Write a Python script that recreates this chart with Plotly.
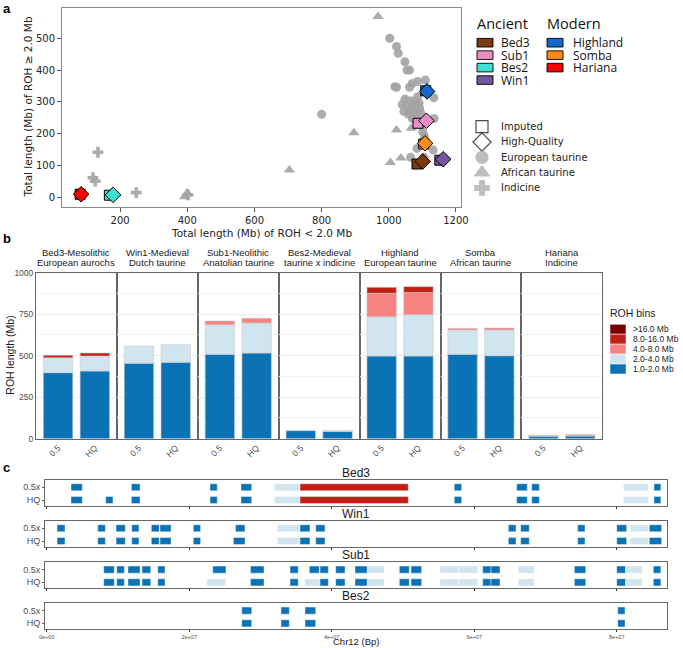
import plotly.graph_objects as go

W, H = 683, 648


def px(x):
    return x / W


def py(y):
    return 1 - y / H


# ---------------- Panel a data ----------------
euro_x = [800, 1003, 1023, 1028, 1048, 1054, 1062, 1018, 1023, 1062, 1070, 1086, 1109, 1048, 1065,
          1086, 1134, 1062, 1077, 1092, 1083, 1070, 1135, 1101, 1106, 1084, 1132, 1065, 1105, 1040,
          1055, 1072, 1095, 1100, 1045, 1078, 1058, 1090]
euro_y = [261, 500, 474, 453, 426, 400, 400, 348, 346, 346, 358, 364, 369, 309, 304,
          316, 313, 269, 275, 280, 259, 248, 248, 206, 193, 154, 149, 126, 126, 292,
          285, 290, 265, 232, 270, 300, 262, 296]
afr_x = [968, 896, 1005, 1036, 1023, 1067, 704, 400, 392]
afr_y = [568, 203, 110, 124, 212, 217, 86, 14, 2]
ind_x = [134, 119, 126, 248, 402]
ind_y = [142, 62, 51, 15, 8]

samples_a = ["Bed3", "Sub1", "Bes2", "Win1", "Highland", "Somba", "Hariana"]
sample_colors = ["#7A3A12", "#E98FC6", "#40E0D0", "#75569E", "#1767C8", "#F98A1C", "#FF0000"]
imp_x = [1084, 1087, 168, 1152, 1110, 1104, 81]
imp_y = [105, 233, 7, 117, 335, 168, 10]
hq_x = [1101, 1112, 179, 1162, 1114, 1108, 84]
hq_y = [113, 241, 8, 120, 333, 170, 10]
ancient = ["Bed3", "Sub1", "Bes2", "Win1"]
modern = ["Highland", "Somba", "Hariana"]
shape_labels = ["Imputed", "High-Quality", "European taurine", "African taurine", "Indicine"]

# ---------------- Panel b data ----------------
facets = ["Bed3", "Win1", "Sub1", "Bes2", "Highland", "Somba", "Hariana"]
strip1 = ["Bed3-Mesolithic", "Win1-Medieval", "Sub1-Neolithic", "Bes2-Medieval",
          "Highland", "Somba", "Hariana"]
strip2 = ["European aurochs", "Dutch taurine", "Anatolian taurine", "taurine x indicine",
          "European taurine", "African taurine", "Indicine"]
quality = ["0.5", "HQ"]
roh_1_2 = [[398, 408], [454, 460], [508, 516], [48, 44], [498, 498], [508, 500], [15, 16]]
roh_2_4 = [[90, 90], [104, 108], [179, 181], [0, 6], [237, 249], [147, 155], [4, 4]]
roh_4_8 = [[0, 0], [0, 0], [22, 28], [0, 0], [141, 133], [10, 12], [2, 5]]
roh_8_16 = [[14, 18], [0, 0], [0, 0], [0, 0], [36, 36], [0, 0], [0, 0]]
roh_16 = [[0, 0], [0, 0], [0, 0], [0, 0], [0, 0], [0, 0], [0, 0]]
bin_labels = ["1.0-2.0 Mb", "2.0-4.0 Mb", "4.0-8.0 Mb", "8.0-16.0 Mb", ">16.0 Mb"]
bin_colors = ["#0B72B5", "#D1E5F0", "#F7827F", "#C01F14", "#7A0000"]
bin_edges = [0, 2, 4, 8, 16]

# ---------------- Panel c data (Mb) ----------------
seg_samples = ["Bed3", "Win1", "Sub1", "Bes2"]
seg_rows = ["0.5x", "HQ"]
seg_start = {
    ("Bed3", "0.5x"): [3.41, 11.88, 22.92, 27.27, 31.94, 35.55, 57.2, 65.96, 68.07, 80.93, 85.23],
    ("Bed3", "HQ"): [3.41, 8.28, 11.88, 22.92, 27.27, 31.94, 35.55, 57.2, 65.96, 68.07, 80.93, 85.23],
    ("Win1", "0.5x"): [1.45, 7.16, 9.73, 11.93, 14.68, 15.9, 20.57, 26.5, 32.36, 35.55, 37.75,
                       64.79, 66.52, 74.52, 80.0, 81.87, 84.57],
    ("Win1", "HQ"): [1.45, 7.16, 9.73, 11.93, 14.68, 15.9, 20.57, 26.2, 32.36, 35.55, 37.75,
                     64.79, 66.52, 74.52, 80.0, 81.87, 84.57],
    ("Sub1", "0.5x"): [8.0, 9.82, 11.41, 13.38, 15.58, 23.3, 28.6, 34.15, 36.86, 38.36, 40.56,
                       43.27, 45.0, 49.49, 51.13, 55.2, 57.8, 61.19, 62.36, 66.19, 74.05, 80.0,
                       81.26, 85.14],
    ("Sub1", "HQ"): [8.0, 9.82, 11.41, 13.38, 15.58, 22.46, 28.6, 34.15, 36.2, 38.36, 40.56,
                     43.27, 45.0, 49.49, 51.13, 55.2, 57.8, 61.19, 62.36, 66.19, 74.05, 80.0,
                     81.26, 85.14],
    ("Bes2", "0.5x"): [27.37, 32.88, 36.25, 80.14],
    ("Bes2", "HQ"): [27.37, 32.88, 36.25, 80.14],
}
seg_end = {
    ("Bed3", "0.5x"): [5.0, 13.1, 23.94, 28.77, 35.55, 50.75, 58.24, 67.45, 69.14, 84.43, 86.2],
    ("Bed3", "HQ"): [5.0, 9.3, 13.1, 23.94, 28.77, 35.55, 50.75, 58.24, 67.45, 69.14, 84.43, 86.2],
    ("Win1", "0.5x"): [2.57, 8.23, 11.03, 12.95, 15.8, 17.45, 21.6, 27.83, 35.55, 36.95, 39.06,
                       65.87, 67.73, 75.55, 81.4, 84.43, 86.31],
    ("Win1", "HQ"): [2.57, 8.23, 11.03, 12.95, 15.8, 17.45, 21.6, 27.83, 35.55, 36.95, 39.06,
                     65.87, 67.73, 75.55, 81.4, 84.43, 86.31],
    ("Sub1", "0.5x"): [9.49, 10.9, 13.1, 14.6, 16.6, 25.16, 30.5, 35.31, 38.26, 39.53, 41.87,
                       45.0, 47.38, 50.89, 52.63, 57.8, 60.5, 62.36, 63.62, 68.43, 75.65, 81.26,
                       83.6, 86.2],
    ("Sub1", "HQ"): [9.49, 10.9, 13.1, 14.6, 16.6, 25.16, 30.5, 35.31, 38.36, 39.53, 41.87,
                     45.0, 47.38, 50.89, 52.63, 57.8, 60.5, 62.36, 63.62, 68.43, 75.65, 81.26,
                     83.6, 86.2],
    ("Bes2", "0.5x"): [28.77, 34.05, 37.75, 81.17],
    ("Bes2", "HQ"): [28.77, 34.05, 37.75, 81.17],
}
chr_ticks = [0, 2e7, 4e7, 6e7, 8e7]
chr_ticktext = ["0e+00", "2e+07", "4e+07", "6e+07", "8e+07"]

# ---------------- Figure ----------------
fig = go.Figure()
layout = dict(
    template="none",
    width=W, height=H, margin=dict(l=0, r=0, t=0, b=0, pad=0, autoexpand=False),
    paper_bgcolor="white", plot_bgcolor="rgba(0,0,0,0)",
    showlegend=False, barmode="overlay",
    font=dict(family="Liberation Sans", color="#1a1a1a"),
)
annotations = []
shapes = []


def ann(x, y, text, size, family="Liberation Sans", color="#1a1a1a", xanchor="center",
        angle=0):
    annotations.append(dict(x=px(x), y=py(y), xref="paper", yref="paper", text=text,
                            xanchor=xanchor, yanchor="middle", showarrow=False, textangle=angle,
                            borderpad=0, font=dict(family=family, size=size, color=color)))


# ----- Panel a -----
fig.add_trace(go.Scatter(x=euro_x, y=euro_y, mode="markers", xaxis="x", yaxis="y",
                         marker=dict(symbol="circle", size=9, color="#a3a3a3", opacity=0.9)))
fig.add_trace(go.Scatter(x=afr_x, y=afr_y, mode="markers", xaxis="x", yaxis="y",
                         marker=dict(symbol="triangle-up", size=10, color="#a3a3a3", opacity=0.9)))
fig.add_trace(go.Scatter(x=ind_x, y=ind_y, mode="markers", xaxis="x", yaxis="y",
                         marker=dict(symbol="cross", size=9, color="#a3a3a3", opacity=0.9)))
fig.add_trace(go.Scatter(x=imp_x, y=imp_y, mode="markers", xaxis="x", yaxis="y",
                         marker=dict(symbol="square", size=10, color=sample_colors,
                                     line=dict(color="black", width=1))))
fig.add_trace(go.Scatter(x=hq_x, y=hq_y, mode="markers", xaxis="x", yaxis="y",
                         marker=dict(symbol="diamond", size=12, color=sample_colors,
                                     line=dict(color="black", width=1))))

ax_a = dict(showline=True, mirror=True, linecolor="#8a8a8a", linewidth=1, ticks="outside",
            ticklen=4, tickcolor="#555", showgrid=False, zeroline=False, automargin=False,
            tickfont=dict(family="DejaVu Sans", size=10, color="#222"))
layout["xaxis"] = dict(ax_a, domain=[px(62), px(461)], range=[27, 1215],
                       tickvals=[200, 400, 600, 800, 1000, 1200], anchor="y")
layout["yaxis"] = dict(ax_a, domain=[py(207), py(8)], range=[-30, 595],
                       tickvals=[0, 100, 200, 300, 400, 500], anchor="x")
ann(261.5, 233, "Total length (Mb) of ROH < 2.0 Mb", 10.5, "DejaVu Sans", "#222")
ann(27, 107.5, "Total length (Mb) of ROH \u2265 2.0 Mb", 10.5, "DejaVu Sans", "#222", angle=-90)

# ----- Panel b -----
fw = (602.3 - 36) / len(facets)
bins = [roh_1_2, roh_2_4, roh_4_8, roh_8_16, roh_16]
for i, fac in enumerate(facets):
    xa = "x%d" % (i + 2)
    ya = "y%d" % (i + 2)
    cum = [0, 0]
    for b, vals in enumerate(bins):
        v = vals[i]
        if any(v):
            fig.add_trace(go.Bar(
                x=quality, y=[val if val else None for val in v], base=list(cum),
                width=0.8, xaxis=xa, yaxis=ya,
                marker=dict(color=bin_colors[b], line=dict(color="#c9c9c9", width=0.6))))
        cum = [cum[k] + v[k] for k in range(2)]
    x0 = 36 + fw * i
    layout["xaxis%d" % (i + 2)] = dict(
        domain=[px(x0), px(x0 + fw)], type="category", categoryorder="array",
        categoryarray=quality, range=[-0.6, 1.6], anchor=ya, showline=True, mirror=True,
        linecolor="#666", linewidth=1, showgrid=False, tickangle=-45, ticks="",
        automargin=False, tickfont=dict(size=8.5, color="#4d4d4d"))
    layout["yaxis%d" % (i + 2)] = dict(
        domain=[py(438.7), py(272.7)], range=[0, 1000], anchor=xa, showline=True, mirror=True,
        linecolor="#666", linewidth=1, tickvals=[0, 250, 500, 750, 1000],
        showticklabels=(i == 0), ticks="", gridcolor="#ebebeb", gridwidth=0.8, zeroline=False,
        automargin=False,
        minor=dict(tickvals=[125, 375, 625, 875], showgrid=True, gridcolor="#f4f4f4", gridwidth=0.6),
        tickfont=dict(size=8.5, color="#4d4d4d"))
    cx = x0 + fw / 2
    ann(cx, 252.7, strip1[i], 9.5)
    ann(cx, 262.9, strip2[i], 9.5)

ann(10, 355.7, "ROH length (Mb)", 10.5, angle=-90)

# ----- Panel c -----
sub_tops = [480, 521, 562.3, 603.3]
sub_h = 26


def seg_color(length):
    idx = 0
    for k, e in enumerate(bin_edges):
        if length >= e:
            idx = k
    return bin_colors[idx]


for j, s in enumerate(seg_samples):
    xa = "x%d" % (9 + j)
    ya = "y%d" % (9 + j)
    for r in seg_rows:
        st = seg_start[(s, r)]
        en = seg_end[(s, r)]
        fig.add_trace(go.Bar(
            orientation="h", y=[r] * len(st), base=[a * 1e6 for a in st],
            x=[(b - a) * 1e6 for a, b in zip(st, en)], width=0.56, xaxis=xa, yaxis=ya,
            marker=dict(color=[seg_color(b - a) for a, b in zip(st, en)],
                        line=dict(color="rgba(255,255,255,0.55)", width=0.8))))
    top = sub_tops[j]
    layout["xaxis%d" % (9 + j)] = dict(
        domain=[px(45), px(667.3)], range=[-0.24e6, 87.1e6], anchor=ya,
        tickvals=chr_ticks, ticktext=chr_ticktext, showticklabels=(j == 3),
        ticks="outside", ticklen=2, tickwidth=1, tickcolor="#333", showline=True, mirror=True,
        linecolor="#666", linewidth=1, showgrid=False, zeroline=False, automargin=False,
        tickfont=dict(size=5.5, color="#4d4d4d"))
    layout["yaxis%d" % (9 + j)] = dict(
        domain=[py(top + sub_h), py(top)], type="category", categoryorder="array",
        categoryarray=["HQ", "0.5x"], range=[-0.47, 1.575], anchor=xa, showline=True,
        mirror=True, linecolor="#666", linewidth=1, showgrid=False, ticks="outside",
        ticklen=2, tickcolor="#666", automargin=False, tickfont=dict(size=9, color="#4d4d4d"))
    ann(356, top - 7, s, 12)

ann(356, 641.7, "Chr12 (Bp)", 9.5)

# ----- Overlay axis for legends (pixel coordinates) -----
layout["xaxis13"] = dict(domain=[0, 1], range=[0, W], visible=False, anchor="y13",
                         fixedrange=True, automargin=False)
layout["yaxis13"] = dict(domain=[0, 1], range=[H, 0], visible=False, anchor="x13",
                         fixedrange=True, automargin=False)

# Ancient / Modern legend
ann(476, 23, "Ancient", 14.5, "Open Sans", "#111", xanchor="left")
ann(546, 23, "Modern", 14.5, "Open Sans", "#111", xanchor="left")
for col_names, sx, tx in [(ancient, 477, 500), (modern, 547, 571.5)]:
    for k, name in enumerate(col_names):
        yc = 42.7 + 12.45 * k
        c = sample_colors[samples_a.index(name)]
        shapes.append(dict(type="rect", xref="x13", yref="y13", x0=sx, x1=sx + 16,
                           y0=yc - 4.3, y1=yc + 4.3, fillcolor=c,
                           line=dict(color="black", width=0.9)))
        ann(tx, yc, name, 12, "Open Sans", "#111", xanchor="left")

# Shape legend
shape_syms = ["square-open", "diamond-open", "circle", "triangle-up", "cross"]
shape_cols = ["black", "black", "#a3a3a3", "#a3a3a3", "#a3a3a3"]
shape_sizes = [12, 14, 12, 13, 12]
sy = [126.7 + 15.3 * k for k in range(len(shape_labels))]
fig.add_trace(go.Scatter(x=[482] * len(shape_labels), y=sy, mode="markers",
                         xaxis="x13", yaxis="y13", hoverinfo="skip",
                         marker=dict(symbol=shape_syms, size=shape_sizes, color=shape_cols,
                                     line=dict(width=1.2, color=shape_cols))))
for k, lab in enumerate(shape_labels):
    ann(499.5, sy[k], lab, 10, "DejaVu Sans", "#222", xanchor="left")

# ROH bins legend
ann(609, 313.3, "ROH bins", 10.5, xanchor="left")
for k in range(len(bin_labels)):
    idx = len(bin_labels) - 1 - k
    y0 = 324.3 + 9.94 * k
    shapes.append(dict(type="rect", xref="x13", yref="y13", x0=610, x1=626, y0=y0, y1=y0 + 9.94,
                       fillcolor=bin_colors[idx], line=dict(color="white", width=0.5)))
    ann(631.5, y0 + 5, bin_labels[idx], 8.5, xanchor="left")

# Panel letters
for letter, yy in [("a", 9), ("b", 238), ("c", 467)]:
    ann(2, yy, "<b>%s</b>" % letter, 13, color="black", xanchor="left")

layout["annotations"] = annotations
layout["shapes"] = shapes
fig.update_layout(**layout)
fig.write_html("out.html", config={"displayModeBar": False},
               post_script="document.body.style.margin='0';document.body.style.overflow='hidden';")
